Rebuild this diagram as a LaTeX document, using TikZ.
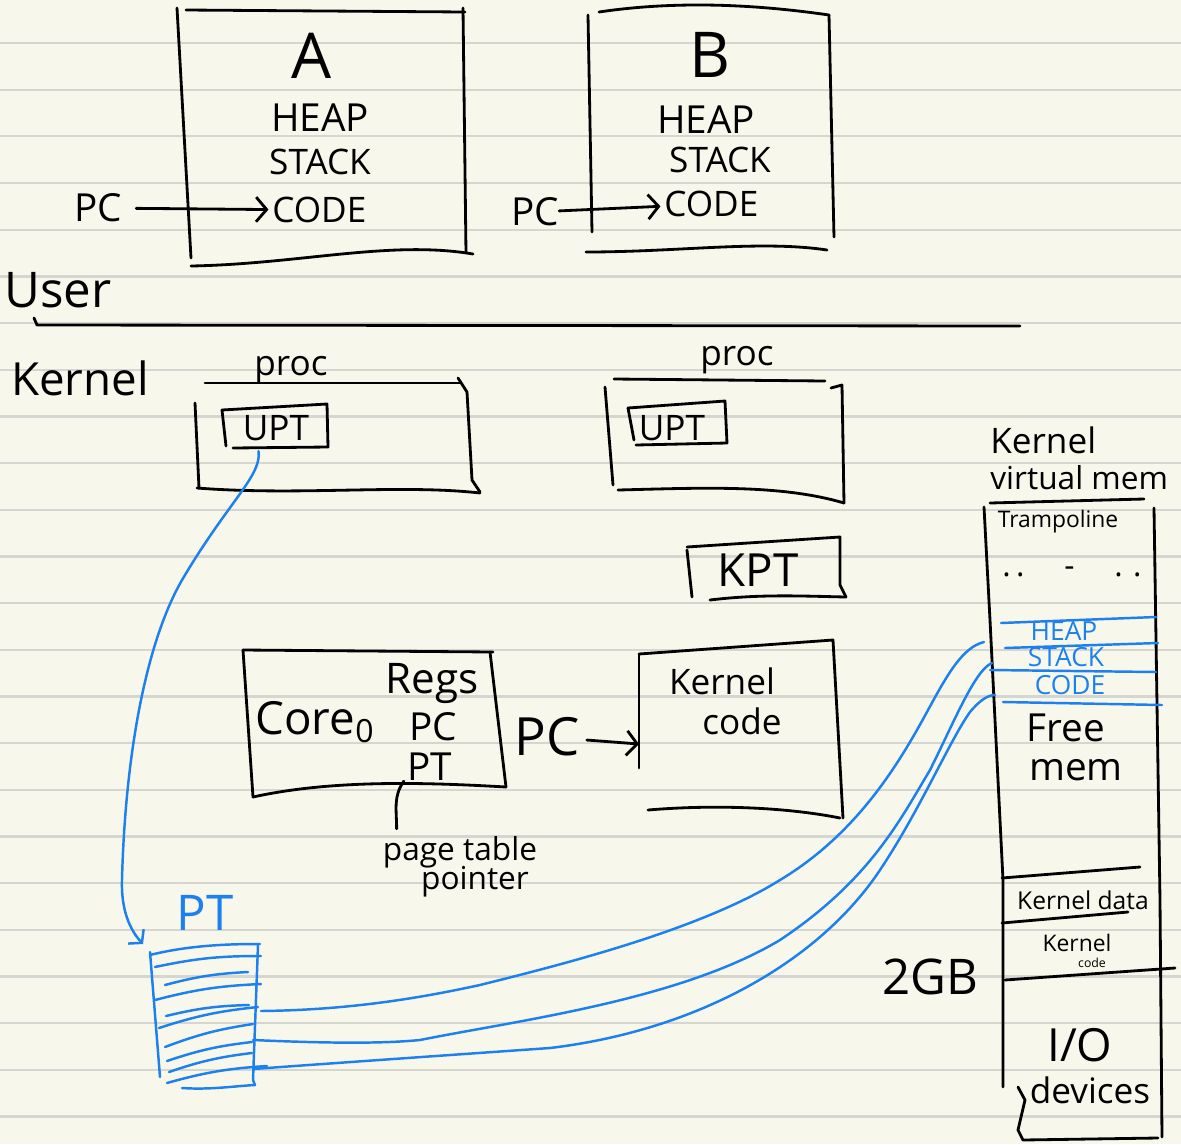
\documentclass[tikz,border=0pt]{standalone}
\usepackage{fontspec}
\setmainfont{Open Sans}
\usetikzlibrary{arrows.meta,positioning,calc}
\definecolor{paper}{RGB}{248,247,235}
\definecolor{ruled}{RGB}{214,214,209}
\definecolor{pen}{RGB}{28,128,238}

\begin{document}
\begin{tikzpicture}[x=0.02cm, y=-0.02cm,
  pencil/.style={draw=black, line width=1.6pt, line cap=round, line join=round},
  bluepencil/.style={draw=pen, line width=1.4pt, line cap=round, line join=round},
  lbl/.style={inner sep=0pt, text=black, font=\fontsize{#1}{#1}\selectfont},
  bluelbl/.style={lbl=#1, text=pen},
  barbtip/.style={-{Straight Barb[length=6pt, width=14pt]}},
]
  \useasboundingbox (0,0) rectangle (1181,1144);

  % Paper
  \fill[paper] (0,0) rectangle (1181,1144);
  \foreach \k in {0,...,23}
    \draw[ruled, line width=1.3pt] (0,43+46.67*\k) -- (1181,43+46.67*\k);

  % Process A
  \draw[pencil] (186,10) -- (465,12);
  \draw[pencil] (177,8) -- (191,258);
  \draw[pencil] (463,8) -- (466,253);
  \draw[pencil] (191,266) .. controls (300,264) and (390,240) .. (473,254);
  \node[lbl=36] (nameA) at (312,56) {A};
  \node[lbl=22] (heapA) at (320,118) {HEAP};
  \node[lbl=20] (stackA) at (320,162) {STACK};
  \node[lbl=20, anchor=west] (codeA) at (272,210) {CODE};
  \node[lbl=22] (pcA) at (98,208) {PC};
  \draw[pencil, barbtip, shorten <=8pt, shorten >=2pt] (pcA) -- (codeA);

  % Process B
  \draw[pencil] (599,12) .. controls (680,0) and (760,5) .. (829,15);
  \draw[pencil] (588,15) -- (592,232);
  \draw[pencil] (829,15) -- (834,237);
  \draw[pencil] (586,252) .. controls (680,252) and (760,240) .. (827,250);
  \node[lbl=36] (nameB) at (710,55) {B};
  \node[lbl=22] (heapB) at (706,120) {HEAP};
  \node[lbl=20] (stackB) at (720,160) {STACK};
  \node[lbl=20, anchor=west] (codeB) at (664,204) {CODE};
  \node[lbl=22] (pcB) at (535,212) {PC};
  \draw[pencil, barbtip, shorten >=2pt] (pcB) -- (codeB);

  % User / kernel split
  \node[lbl=28] (user) at (58,290) {User};
  \draw[pencil] (34,318) -- (37,325) -- (1020,326);
  \node[lbl=26] (kernel) at (80,378) {Kernel};

  % Proc of A
  \node[lbl=20] (procA) at (291,370) {proc};
  \draw[pencil] (205,383) -- (460,383);
  \draw[pencil] (458,378) -- (467,392) -- (472,480) -- (480,492);
  \draw[pencil] (195,403) -- (199,488);
  \draw[pencil] (197,488) .. controls (300,496) and (400,484) .. (480,493);
  \draw[pencil] (222,410) -- (327,404) -- (328,447) -- (233,448);
  \draw[pencil] (222,410) -- (226,446);
  \node[lbl=20] (uptA) at (276,428) {UPT};

  % Proc of B
  \node[lbl=20] (procB) at (737,360) {proc};
  \draw[pencil] (614,379) -- (825,381);
  \draw[pencil] (831,388) -- (842,385) -- (844,503);
  \draw[pencil] (605,387) -- (613,485);
  \draw[pencil] (618,490) .. controls (700,488) and (780,484) .. (844,503);
  \draw[pencil] (628,408) -- (725,401) -- (727,443) -- (636,445);
  \draw[pencil] (628,408) -- (634,440);
  \node[lbl=20] (uptB) at (672,428) {UPT};

  % Kernel page table
  \draw[pencil] (687,547) -- (840,537) -- (840,585) -- (846,597);
  \draw[pencil] (687,550) -- (692,597);
  \draw[pencil] (710,600) .. controls (760,594) and (800,596) .. (846,597);
  \node[lbl=26] (kpt) at (758,570) {KPT};

  % Core
  \draw[pencil] (243,650) -- (493,652);
  \draw[pencil] (243,650) -- (253,797);
  \draw[pencil] (490,652) -- (506,787);
  \draw[pencil] (253,797) .. controls (330,780) and (420,782) .. (506,787);
  \node[lbl=26] (core) at (315,722) {Core\textsubscript{0}};
  \node[lbl=24] (regs) at (432,684) {Regs};
  \node[lbl=22] (corePC) at (433,727) {PC};
  \node[lbl=22] (corePT) at (430,767) {PT};
  \node[lbl=18] (pgtbl) at (460,852) {page table};
  \node[lbl=18] (pgptr) at (475,882) {pointer};
  \draw[pencil] ([xshift=-2pt]corePT.south west) to[out=235, in=90]
    ([xshift=8pt, yshift=4pt]pgtbl.north west);

  % Kernel code
  \node[lbl=30] (kpc) at (547,737) {PC};
  \draw[pencil] (639,654) -- (833,640) -- (843,818);
  \draw[pencil] (639,654) -- (639,768);
  \draw[pencil] (648,810) .. controls (720,804) and (790,808) .. (840,818);
  \coordinate (kcin) at (639,744);
  \node[lbl=20] (kcode1) at (722,681) {Kernel};
  \node[lbl=20] (kcode2) at (742,721) {code};
  \draw[pencil, barbtip, shorten <=4pt] (kpc) -- (kcin);

  % Kernel virtual memory
  \node[lbl=20, anchor=west] (kvm1) at (990,440) {Kernel};
  \node[lbl=18, anchor=west] (kvm2) at (990,478) {virtual mem};
  \draw[pencil] (990,503) -- (1144,499);
  \draw[pencil] (984,507) -- (990,620) -- (1003,880) -- (1003,1087);
  \draw[pencil] (1154,508) -- (1160,900) -- (1162,1137);
  \draw[pencil] (1018,1087) -- (1025,1100) -- (1018,1130) -- (1023,1140) -- (1158,1138);
  \node[lbl=13] (tramp) at (1058,522) {Trampoline};
  \node[lbl=18] (gap) at (1072,572) {.\,.\quad\ -\ \quad.\,\,.};
  \draw[bluepencil] (1001,623) -- (1156,617);
  \draw[bluepencil] (1005,648) -- (1158,643);
  \draw[bluepencil] (990,670) -- (1156,672);
  \draw[bluepencil] (1003,702) -- (1162,705);
  \node[bluelbl=15] (mheap) at (1064,631) {HEAP};
  \node[bluelbl=15] (mstack) at (1066,657) {STACK};
  \node[bluelbl=15] (mcode) at (1070,685) {CODE};
  \node[lbl=22] (free1) at (1066,728) {Free};
  \node[lbl=22] (free2) at (1076,770) {mem};
  \draw[pencil] (1002,878) -- (1140,867);
  \node[lbl=14] (kdata) at (1083,900) {Kernel data};
  \draw[pencil] (1002,923) -- (1128,912);
  \node[lbl=13] (kcodeA) at (1077,943) {Kernel};
  \node[lbl=7] (kcodeB) at (1092,963) {code};
  \draw[pencil] (1005,980) -- (1175,968);
  \node[lbl=28] (twogb) at (930,977) {2GB};
  \node[lbl=26] (io) at (1080,1045) {I/O};
  \node[lbl=20] (devs) at (1090,1090) {devices};

  % Page table
  \node[bluelbl=28] (ptlbl) at (205,913) {PT};
  \draw[bluepencil] (150,955) .. controls (190,945) and (230,944) .. (260,944);
  \draw[bluepencil] (150,952) -- (160,1077);
  \draw[bluepencil] (258,945) -- (253,1080) -- (255,1085);
  \draw[bluepencil] (182,1088) .. controls (210,1090) and (235,1086) .. (255,1085);
  \foreach \xa/\ya/\xb/\yb in {155/967/261/956, 165/985/248/972, 155/1000/261/984,
      166/1016/249/1005, 159/1028/258/1007, 165/1047/253/1024,
      167/1061/252/1042, 169/1072/252/1053, 167/1083/267/1066}
    \draw[bluepencil] (\xa,\ya) to[bend left=6] (\xb,\yb);

  % UPT points at the page table
  \coordinate (ptin) at (143,944);
  \draw[bluepencil, -{Straight Barb[length=5pt, width=12pt]}]
    ([xshift=-0.35cm, yshift=-0.2cm]uptA.south) .. controls (262,475) and (230,500) .. (185,575)
    .. controls (145,640) and (125,760) .. (122,880)
    .. controls (121,910) and (130,930) .. (ptin);

  % PT rows point into kernel memory
  \coordinate (rowA) at (261,1011);
  \coordinate (rowB) at (253,1040);
  \coordinate (rowC) at (253,1069);
  \coordinate (memA) at (984,642);
  \coordinate (memB) at (992,663);
  \coordinate (memC) at (995,695);
  \draw[bluepencil] (rowA) .. controls (350,1010) and (420,998) .. (480,985)
    .. controls (560,965) and (700,930) .. (780,880)
    .. controls (880,820) and (920,720) .. (945,680)
    .. controls (960,655) and (972,645) .. (memA);
  \draw[bluepencil] (rowB) .. controls (320,1043) and (380,1044) .. (420,1040)
    .. controls (520,1020) and (680,1000) .. (780,940)
    .. controls (870,880) and (900,820) .. (930,770)
    .. controls (955,720) and (975,670) .. (memB);
  \draw[bluepencil] (rowC) .. controls (350,1062) and (450,1055) .. (550,1048)
    .. controls (700,1030) and (820,960) .. (880,870)
    .. controls (920,810) and (950,740) .. (970,712)
    .. controls (980,700) and (988,695) .. (memC);
\end{tikzpicture}
\end{document}
